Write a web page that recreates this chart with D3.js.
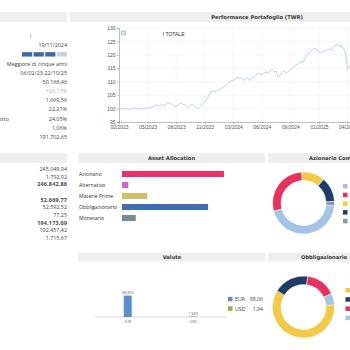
<!DOCTYPE html>
<html><head><meta charset="utf-8">
<script src="https://cdn.jsdelivr.net/npm/d3@7"></script>
<style>
html,body{margin:0;padding:0;background:#fff;overflow:hidden;width:350px;height:350px;}
svg{display:block;}
</style></head><body>
<svg id="c" width="350" height="350"></svg>
<script>
// ---------------- DATA ----------------
const summaryValues = ["I","19/11/2024","","Maggiore di cinque anni","06/02/23-22/10/25","50.168,46","+26,17%","1.669,56","22,21%","24,05%","1,06%","191.702,65"];
const summaryCutLabel = "Rapporto";
const riskBlocks = [1,1,1,0];

const balanceValues = ["245.049,94","1.792,92","246.842,86","","52.669,77","52.592,52","77,25","194.173,09","192.457,42","1.715,67"];
const balanceBold = [false,false,true,false,true,false,false,true,false,false];

const twrValues = [100,100.1,99.9,100,99.8,99.7,99.9,100.1,100.2,99.9,99.8,99.9,100.1,100.2,
 100.1,100.4,100.6,100.9,101.2,101.4,101.0,101.5,101.2,101.6,102.2,101.9,101.5,
 100.8,100.6,101.4,102.0,101.8,101.4,100.9,100.5,101.2,101.7,101.0,100.3,
 100.1,100.8,101.6,102.3,103.5,104.8,106.2,106.7,106.3,106.5,107.0,107.4,
 108.0,108.6,109.3,109.7,110.3,110.6,111.0,111.6,111.2,111.5,110.6,110.9,
 111.3,110.6,111.2,111.9,112.3,112.9,113.2,112.5,113.1,113.6,113.2,114.0,
 114.4,113.6,113.9,111.6,112.5,113.4,113.9,113.2,113.9,114.6,115.0,115.6,
 116.2,116.7,117.6,117.1,118.4,119.8,120.6,121.4,122.2,122.4,121.8,121.2,
 120.8,121.6,121.0,121.8,122.3,121.7,122.8,123.5,123.9,123.2,123.6,122.3,
 121.0,114.6,115.8,117.1,116.2,116.8,117.5];
const twrPointCount = 141;
const twrTickLabels = ["02/2023","05/2023","08/2023","11/2023","03/2024","06/2024","09/2024","01/2025","04/2025","07/2025","10/2025"];
const twrTickStep = 14;
const twrYTicks = [95,100,105,110,115,120,125,130];
const twrSeriesName = "TOTALE";

const allocCategories = ["Azionario","Alternativo","Materie Prime","Obbligazionario","Monetario"];
const allocValues = [43.7, 2.7, 10.8, 36.9, 5.9];
const allocColors = ["#e8346a","#d45fd8","#d6bd6b","#3e6db3","#7b8b93"];

const equityValues = [44.4, 28.3, 12.2, 12.9, 2.2];
const equityColors = ["#a5c3e4","#e7325e","#f3c94a","#1f3c69","#8a96ab"];

const bondValues = [60.6, 18.6, 15.8, 6.1];
const bondColors = ["#f3c94a","#1f3c69","#e7325e","#a5c3e4"];

const currencies = ["EUR","USD"];
const currencyValues = [98.06, 1.94];
const currencyLabels = ["98,06%","1,94%"];
const currencyLegendValues = ["98,06","1,94"];
const currencyColors = ["#5b8fcb","#8bb44a"];

// ---------------- DRAW ----------------
const svg = d3.select("#c");
const SANS = "'Open Sans', sans-serif";
const ARIAL = "'Liberation Sans', Arial, sans-serif";
const HEAD = "'DejaVu Sans', Verdana, sans-serif";

const headers = [
  {x0:0, x1:67, y:12, h:10, t:"", tx:0, a:"middle"},
  {x0:70, x1:360, y:12, h:10, t:"Performance Portafoglio (TWR)", tx:257, a:"middle"},
  {x0:0, x1:67, y:153, h:10, t:"", tx:0, a:"middle"},
  {x0:78, x1:265, y:153, h:10, t:"Asset Allocation", tx:171.5, a:"middle"},
  {x0:268, x1:360, y:153, h:10, t:"Azionario Composizione", tx:309, a:"start"},
  {x0:78, x1:265, y:252.5, h:9, t:"Valute", tx:172, a:"middle"},
  {x0:268, x1:360, y:252.5, h:9, t:"Obbligazionario", tx:301, a:"start"}
];
headers.forEach(h=>{
  svg.append("rect").attr("x",h.x0).attr("y",h.y).attr("width",h.x1-h.x0).attr("height",h.h).attr("fill","#efefef");
  if(h.t) svg.append("text").attr("x",h.tx).attr("y",h.y+h.h/2+1.8).attr("text-anchor",h.a)
    .attr("font-family",HEAD).attr("font-weight","bold").attr("font-size",5.2).attr("fill","#333").text(h.t);
});

// summary column (top-left)
const sumY = d3.scaleLinear().domain([0,11]).range([36,137]);
summaryValues.forEach((v,i)=>{
  if(!v) return;
  svg.append("text").attr("x",i===0?30:67).attr("y",sumY(i)+2).attr("text-anchor",i===0?"start":"end")
    .attr("font-family",SANS).attr("font-size",5.4)
    .attr("fill", i===6 ? "#9cc09c" : (i===0?"#777":"#444")).text(v);
});
svg.append("text").attr("x",9).attr("y",sumY(9)+2).attr("text-anchor","end").attr("font-family",SANS)
  .attr("font-size",5.4).attr("fill","#444").text(summaryCutLabel);
const blockX = d3.scaleBand().domain(d3.range(riskBlocks.length)).range([22,67]).paddingInner(0.12);
svg.selectAll(".blk").data(riskBlocks).join("rect").attr("x",(d,i)=>blockX(i)).attr("y",sumY(2)-2.2)
  .attr("width",blockX.bandwidth()).attr("height",4.4).attr("fill",d=>d?"#3f69a5":"#c9d1dd");

// balance column (middle-left)
const balY = d3.scaleLinear().domain([0,9]).range([169,238]);
balanceValues.forEach((v,i)=>{
  if(!v) return;
  svg.append("text").attr("x",67).attr("y",balY(i)+2).attr("text-anchor","end")
    .attr("font-family",SANS).attr("font-size",5.4).attr("font-weight",balanceBold[i]?"bold":"normal")
    .attr("letter-spacing",balanceBold[i]?0.2:0).attr("fill","#444").text(v);
});

// ---------- TWR line chart ----------
const tx = d3.scaleLinear().domain([0,twrPointCount-1]).range([119,119+140*2.04]);
const ty = d3.scaleLinear().domain([95,130]).range([122,28]);
const tg = svg.append("g");
tg.selectAll(".gy").data(twrYTicks).join("line").attr("x1",119).attr("x2",420).attr("y1",d=>ty(d)).attr("y2",d=>ty(d))
  .attr("stroke","#f0f0f0").attr("stroke-width",0.6);
tg.selectAll(".gx").data(twrTickLabels.map((d,i)=>i*twrTickStep)).join("line").attr("x1",d=>tx(d)).attr("x2",d=>tx(d))
  .attr("y1",28).attr("y2",122).attr("stroke","#f0f0f0").attr("stroke-width",0.6);
const yAx = tg.append("g").attr("transform","translate(119,0)")
  .call(d3.axisLeft(ty).tickValues(twrYTicks).tickSize(2).tickPadding(1.5));
const xAx = tg.append("g").attr("transform","translate(0,122)")
  .call(d3.axisBottom(tx).tickValues(twrTickLabels.map((d,i)=>i*twrTickStep)).tickFormat((d,i)=>twrTickLabels[i]).tickSize(2).tickPadding(1));
[yAx,xAx].forEach(a=>{
  a.select(".domain").attr("stroke","#999").attr("stroke-width",0.6);
  a.selectAll(".tick line").attr("stroke","#999").attr("stroke-width",0.6);
  a.selectAll("text").attr("font-family",ARIAL).attr("font-size",5).attr("fill","#555");
});
tg.append("path").datum(twrValues).attr("fill","none").attr("stroke","#a8d3e3").attr("stroke-width",0.9)
  .attr("d",d3.line().x((d,i)=>tx(i)).y(d=>ty(d)));
tg.append("rect").attr("x",121.5).attr("y",31).attr("width",4).attr("height",4).attr("fill","#dfe9f3").attr("stroke","#7ea2c6").attr("stroke-width",0.6);
tg.append("line").attr("x1",163.5).attr("x2",163.5).attr("y1",31.8).attr("y2",35.5).attr("stroke","#555").attr("stroke-width",0.6);
tg.append("text").attr("x",165.5).attr("y",35.5).attr("font-family",ARIAL).attr("font-size",5).attr("fill","#333").text(twrSeriesName);

// ---------- Asset allocation ----------
const ay = d3.scaleBand().domain(allocCategories).range([168.5,223.5]).paddingInner(0.45).paddingOuter(0.22);
const ax = d3.scaleLinear().domain([0,100]).range([122,355.3]);
svg.selectAll(".ab").data(allocValues).join("rect").attr("x",ax(0)).attr("y",(d,i)=>ay(allocCategories[i]))
  .attr("width",d=>ax(d)-ax(0)).attr("height",ay.bandwidth()).attr("fill",(d,i)=>allocColors[i]);
svg.selectAll(".al").data(allocCategories).join("text").attr("x",79).attr("y",d=>ay(d)+ay.bandwidth()/2+1.9)
  .attr("font-family",SANS).attr("font-size",5.2).attr("fill","#333").text(d=>d);

// ---------- Donuts ----------
function donut(values, colors, cx, cy, start){
  const pie = d3.pie().sort(null).startAngle(start*Math.PI/180).endAngle(start*Math.PI/180+2*Math.PI);
  const arc = d3.arc().innerRadius(22.5).outerRadius(31);
  const g = svg.append("g").attr("transform",`translate(${cx},${cy})`);
  g.selectAll("path").data(pie(values)).join("path").attr("d",arc).attr("fill",(d,i)=>colors[i])
    .attr("stroke","#fff").attr("stroke-width",0.5);
}
donut(equityValues, equityColors, 303.5, 203, 95);
donut(bondValues, bondColors, 303.5, 307, 86);
svg.selectAll(".el").data(equityColors).join("rect").attr("x",343).attr("y",(d,i)=>184+i*8.7).attr("width",4.5).attr("height",4.5).attr("fill",d=>d);
svg.selectAll(".bl").data(bondColors).join("rect").attr("x",345.5).attr("y",(d,i)=>288+i*9.2).attr("width",4.5).attr("height",4.5).attr("fill",d=>d);

// ---------- Valute ----------
const vx = d3.scalePoint().domain(currencies).range([95,226]).padding(0.5);
const vy = d3.scaleLinear().domain([0,100]).range([317,295.2]);
svg.append("line").attr("x1",95).attr("x2",226).attr("y1",317).attr("y2",317).attr("stroke","#c8c8c8").attr("stroke-width",0.7);
svg.selectAll(".vb").data(currencyValues).join("rect").attr("x",(d,i)=>vx(currencies[i])-4).attr("y",d=>vy(d))
  .attr("width",8).attr("height",d=>Math.max(0.4,vy(0)-vy(d))).attr("fill",(d,i)=>currencyColors[i]);
svg.selectAll(".vl").data(currencyLabels).join("text").attr("x",(d,i)=>vx(currencies[i])).attr("y",(d,i)=>vy(currencyValues[i])-2)
  .attr("text-anchor","middle").attr("font-family",SANS).attr("font-size",3.4).attr("fill","#555").text(d=>d);
svg.selectAll(".vt").data(currencies).join("text").attr("x",d=>vx(d)).attr("y",323)
  .attr("text-anchor","middle").attr("font-family",SANS).attr("font-size",3.4).attr("fill","#666").text(d=>d);
currencies.forEach((c,i)=>{
  const y = 299 + i*9.5;
  svg.append("rect").attr("x",228).attr("y",y-2.2).attr("width",4.5).attr("height",4.5).attr("fill",currencyColors[i]);
  svg.append("text").attr("x",235).attr("y",y+2).attr("font-family",SANS).attr("font-size",5.2).attr("fill","#444").text(c);
  svg.append("text").attr("x",263).attr("y",y+2).attr("text-anchor","end").attr("font-family",SANS).attr("font-size",5.2).attr("fill","#444").text(currencyLegendValues[i]);
});
</script>
</body></html>
